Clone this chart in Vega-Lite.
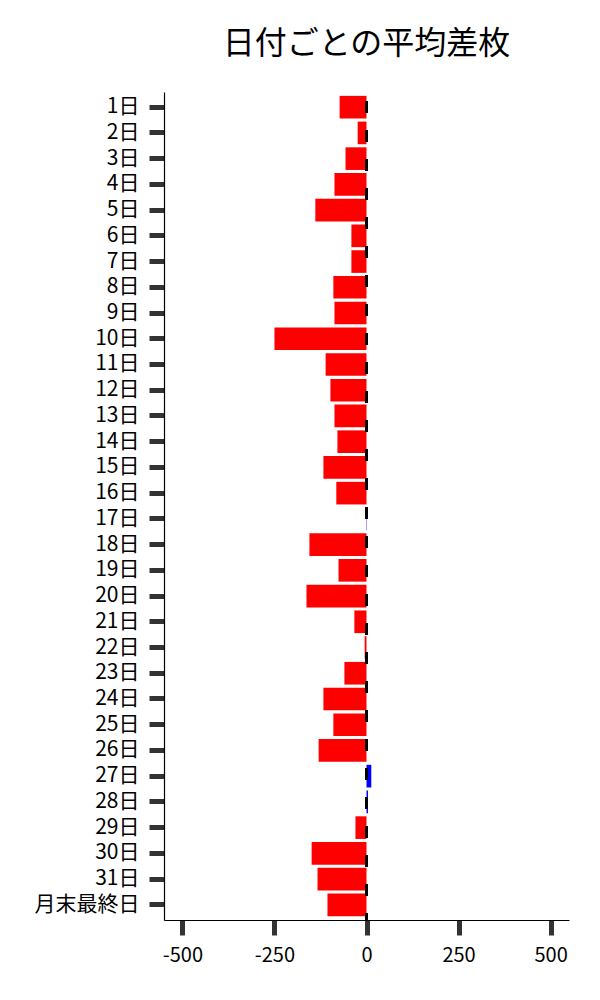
{
  "$schema": "https://vega.github.io/schema/vega-lite/v6.json",
  "width": 405,
  "height": 828,
  "autosize": "none",
  "padding": {"left": 164, "top": 92, "right": 31, "bottom": 80},
  "title": {"text": "日付ごとの平均差枚", "fontSize": 32, "font": "Noto Sans CJK JP", "fontWeight": "normal", "offset": 30, "anchor": "middle", "color": "black"},
  "config": {
    "view": {"stroke": null},
    "axis": {
      "domainColor": "black", "domainWidth": 1.2,
      "tickColor": "#333333", "tickWidth": 5, "tickSize": 15,
      "labelFont": "Noto Sans CJK JP", "labelColor": "black",
      "labelPadding": 10, "grid": false, "title": null
    }
  },
  "data": {"values": [
    {"day": "1日", "value": -73},
    {"day": "2日", "value": -24},
    {"day": "3日", "value": -57},
    {"day": "4日", "value": -87},
    {"day": "5日", "value": -139},
    {"day": "6日", "value": -41},
    {"day": "7日", "value": -41},
    {"day": "8日", "value": -90},
    {"day": "9日", "value": -87},
    {"day": "10日", "value": -250},
    {"day": "11日", "value": -111},
    {"day": "12日", "value": -98},
    {"day": "13日", "value": -87},
    {"day": "14日", "value": -79},
    {"day": "15日", "value": -117},
    {"day": "16日", "value": -82},
    {"day": "17日", "value": 1},
    {"day": "18日", "value": -155},
    {"day": "19日", "value": -76},
    {"day": "20日", "value": -163},
    {"day": "21日", "value": -33},
    {"day": "22日", "value": -5},
    {"day": "23日", "value": -60},
    {"day": "24日", "value": -117},
    {"day": "25日", "value": -90},
    {"day": "26日", "value": -130},
    {"day": "27日", "value": 13},
    {"day": "28日", "value": 4},
    {"day": "29日", "value": -30},
    {"day": "30日", "value": -149},
    {"day": "31日", "value": -133},
    {"day": "月末最終日", "value": -106}
  ]},
  "layer": [
    {
      "mark": {"type": "bar"},
      "encoding": {
        "y": {"field": "day", "type": "nominal", "sort": null, "scale": {"paddingInner": 0.12, "paddingOuter": 0.15}, "axis": {"labelFontSize": 21}},
        "x": {"field": "value", "type": "quantitative", "scale": {"domain": [-550, 550], "nice": false, "zero": false}, "axis": {"values": [-500, -250, 0, 250, 500], "labelFontSize": 20, "labelExpr": "replace(datum.label, '−', '-')"}},
        "color": {"condition": {"test": "datum.value > 0", "value": "#0000ff"}, "value": "#ff0000"}
      }
    },
    {
      "mark": {"type": "rule", "color": "black", "strokeWidth": 2.5, "strokeDash": [12, 17], "strokeDashOffset": 20},
      "encoding": {"x": {"datum": 0, "type": "quantitative"}}
    }
  ]
}
